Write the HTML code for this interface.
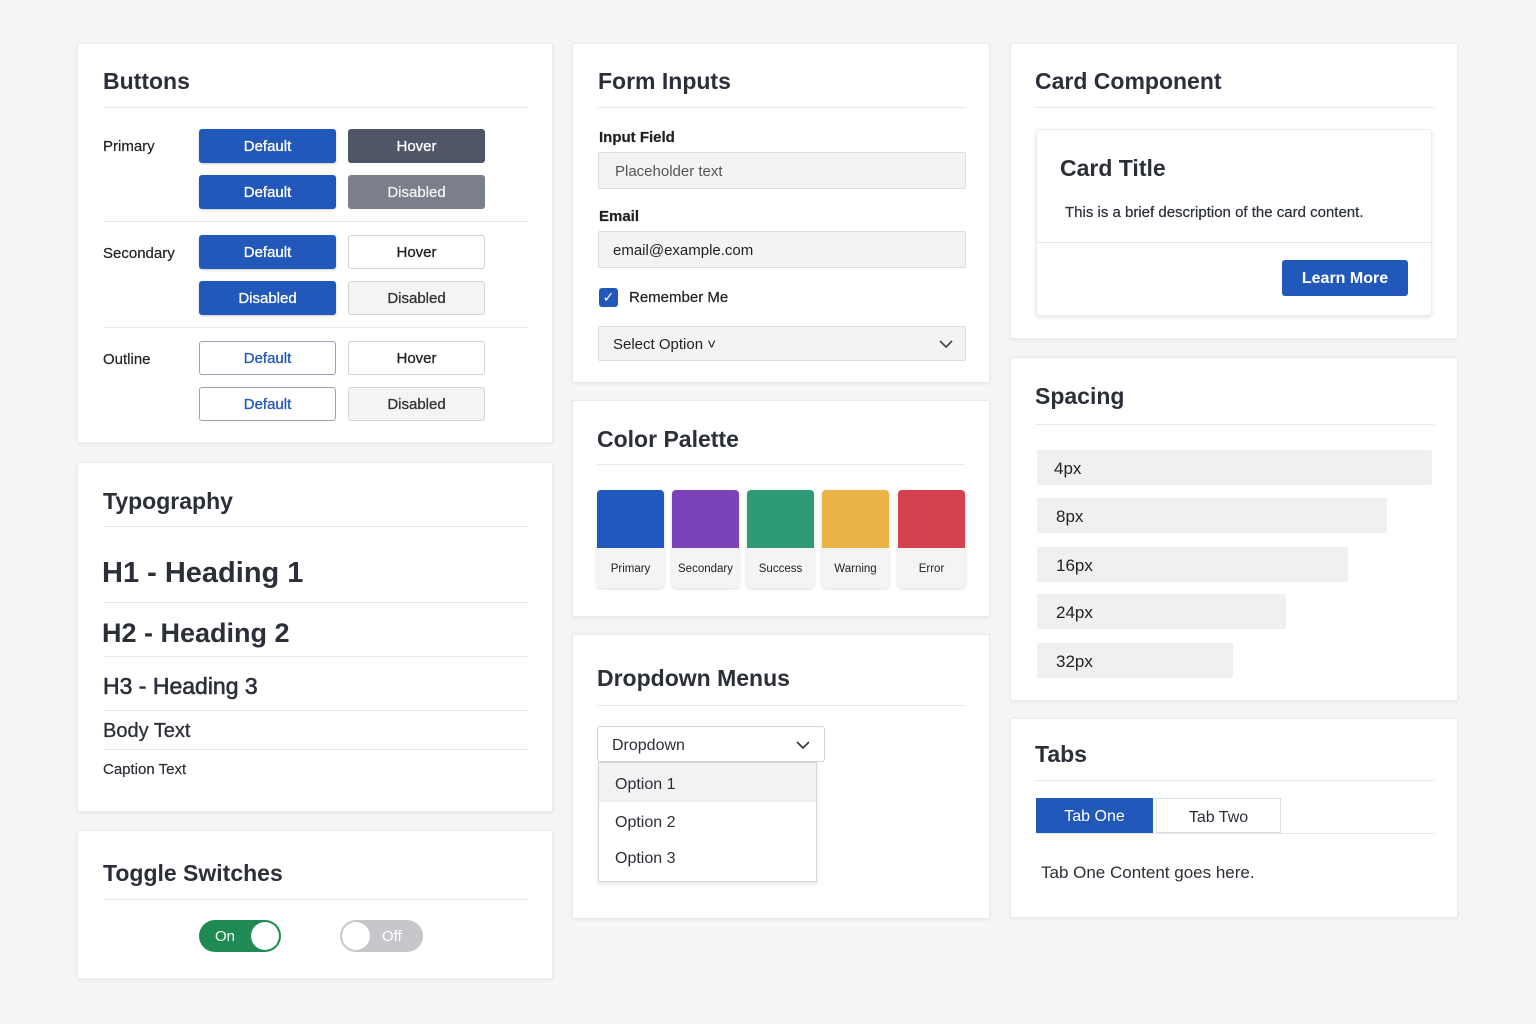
<!DOCTYPE html>
<html><head><meta charset="utf-8"><style>
*{box-sizing:border-box;margin:0;padding:0}
body{width:1536px;height:1024px;background:#f5f5f6;font-family:"Liberation Sans","DejaVu Sans",sans-serif;color:#2b2f38;position:relative;overflow:hidden}
.a{position:absolute}
.card{position:absolute;background:#fff;border:1px solid #ebebed;box-shadow:0 1px 3px rgba(0,0,0,.06);border-radius:2px}
.t{position:absolute;font-size:23px;font-weight:bold;color:#2b2f38;white-space:nowrap}
.hr{position:absolute;height:1px;background:#e8e8ea}
.b{position:absolute;width:137px;height:34px;line-height:36px;text-align:center;font-size:15px;border-radius:3px;-webkit-text-stroke:0.3px}
.pb{background:#2158ba;color:#fff;box-shadow:0 1px 2px rgba(0,0,0,.2)}
.wb{background:#fff;border:1.5px solid #cfd1d5;color:#222;line-height:33px}
.gb{background:#f4f4f5;border:1.5px solid #d4d5d8;color:#333;line-height:33px}
.ob{background:#fff;border:1.5px solid #9aa5ba;color:#2158ba;line-height:33px}
.lbl{position:absolute;font-size:15px;color:#222;white-space:nowrap;-webkit-text-stroke:0.2px}
.inp{position:absolute;background:#f3f3f4;border:1px solid #dcdde0;border-radius:2px;font-size:15px;padding-left:16px;color:#333}
.sw{position:absolute;top:490px;width:67px;height:98px;border-radius:4px;overflow:hidden;box-shadow:0 1px 3px rgba(0,0,0,.15);background:#f4f4f5}
.sw div{height:58px}
.sw span{display:block;text-align:center;font-size:11.5px;line-height:42px;color:#222}
.sp{position:absolute;left:1037px;height:35px;background:#f0f0f1;border-radius:2px;font-size:17px;line-height:37px;padding-left:19px;color:#222}
</style></head><body>

<!-- Buttons -->
<div class="card" style="left:77px;top:43px;width:476px;height:400px"></div>
<div class="t" style="left:103px;top:68px">Buttons</div>
<div class="hr" style="left:103px;top:107px;width:426px"></div>
<div class="lbl" style="left:103px;top:138px">Primary</div>
<div class="b pb" style="left:199px;top:129px">Default</div>
<div class="b" style="left:348px;top:129px;background:#4f5767;color:#fff">Hover</div>
<div class="b pb" style="left:199px;top:175px">Default</div>
<div class="b" style="left:348px;top:175px;background:#7a7f8a;color:#f0f0f0">Disabled</div>
<div class="hr" style="left:103px;top:221px;width:426px"></div>
<div class="lbl" style="left:103px;top:245px">Secondary</div>
<div class="b pb" style="left:199px;top:235px">Default</div>
<div class="b wb" style="left:348px;top:235px">Hover</div>
<div class="b pb" style="left:199px;top:281px">Disabled</div>
<div class="b gb" style="left:348px;top:281px">Disabled</div>
<div class="hr" style="left:103px;top:327px;width:426px"></div>
<div class="lbl" style="left:103px;top:351px">Outline</div>
<div class="b ob" style="left:199px;top:341px">Default</div>
<div class="b wb" style="left:348px;top:341px">Hover</div>
<div class="b ob" style="left:199px;top:387px">Default</div>
<div class="b gb" style="left:348px;top:387px">Disabled</div>

<!-- Typography -->
<div class="card" style="left:77px;top:462px;width:476px;height:350px"></div>
<div class="t" style="left:103px;top:488px">Typography</div>
<div class="hr" style="left:103px;top:526px;width:426px"></div>
<div class="a" style="left:102px;top:557px;font-size:29px;font-weight:bold">H1 - Heading 1</div>
<div class="hr" style="left:103px;top:602px;width:426px"></div>
<div class="a" style="left:102px;top:618px;font-size:27px;font-weight:bold">H2 - Heading 2</div>
<div class="hr" style="left:103px;top:656px;width:426px"></div>
<div class="a" style="left:103px;top:673px;font-size:23px;-webkit-text-stroke:0.6px">H3 - Heading 3</div>
<div class="hr" style="left:103px;top:710px;width:426px"></div>
<div class="a" style="left:103px;top:720px;font-size:20px;-webkit-text-stroke:0.3px">Body Text</div>
<div class="hr" style="left:103px;top:749px;width:426px"></div>
<div class="a" style="left:103px;top:761px;font-size:15px;-webkit-text-stroke:0.2px">Caption Text</div>

<!-- Toggles -->
<div class="card" style="left:77px;top:830px;width:476px;height:149px"></div>
<div class="t" style="left:103px;top:860px">Toggle Switches</div>
<div class="hr" style="left:103px;top:899px;width:426px"></div>
<div class="a" style="left:199px;top:920px;width:82px;height:32px;border-radius:16px;background:#1f8a53"><span class="a" style="left:16px;top:8px;color:#fff;font-size:15px">On</span><div class="a" style="left:52px;top:2px;width:28px;height:28px;border-radius:50%;background:#fff"></div></div>
<div class="a" style="left:340px;top:920px;width:83px;height:32px;border-radius:16px;background:#c5c7cb"><span class="a" style="left:42px;top:8px;color:#fff;font-size:15px">Off</span><div class="a" style="left:2px;top:2px;width:28px;height:28px;border-radius:50%;background:#fff"></div></div>

<!-- Form Inputs -->
<div class="card" style="left:572px;top:43px;width:418px;height:340px"></div>
<div class="t" style="left:598px;top:68px">Form Inputs</div>
<div class="hr" style="left:598px;top:107px;width:368px"></div>
<div class="lbl" style="left:599px;top:129px;font-weight:bold">Input Field</div>
<div class="inp" style="left:598px;top:152px;width:368px;height:37px;line-height:38px;color:#555">Placeholder text</div>
<div class="lbl" style="left:599px;top:208px;font-weight:bold">Email</div>
<div class="inp" style="left:598px;top:231px;width:368px;height:37px;line-height:38px;padding-left:14px;color:#222">email@example.com</div>
<div class="a" style="left:599px;top:288px;width:19px;height:19px;border-radius:3px;background:#2158ba;color:#fff;font-size:14px;line-height:19px;text-align:center">✓</div>
<div class="lbl" style="left:629px;top:289px">Remember Me</div>
<div class="inp" style="left:598px;top:326px;width:368px;height:35px;line-height:36px;padding-left:14px;color:#222">Select Option ˅</div>
<svg class="a" style="left:938px;top:338px" width="16" height="12"><path d="M2 3l6 6 6-6" stroke="#444" stroke-width="1.6" fill="none"/></svg>

<!-- Color palette -->
<div class="card" style="left:572px;top:400px;width:418px;height:217px"></div>
<div class="t" style="left:597px;top:426px">Color Palette</div>
<div class="hr" style="left:597px;top:464px;width:368px"></div>
<div class="sw" style="left:597px"><div style="background:#2058bf"></div><span>Primary</span></div>
<div class="sw" style="left:672px"><div style="background:#7c42b8"></div><span>Secondary</span></div>
<div class="sw" style="left:747px"><div style="background:#2f9b76"></div><span>Success</span></div>
<div class="sw" style="left:822px"><div style="background:#ecb348"></div><span>Warning</span></div>
<div class="sw" style="left:898px"><div style="background:#d3434f"></div><span>Error</span></div>

<!-- Dropdown -->
<div class="card" style="left:572px;top:634px;width:418px;height:285px"></div>
<div class="t" style="left:597px;top:665px">Dropdown Menus</div>
<div class="hr" style="left:597px;top:705px;width:368px"></div>
<div class="a" style="left:597px;top:726px;width:228px;height:36px;border:1px solid #cfd1d5;border-radius:3px;background:#fff;font-size:16px;line-height:37px;padding-left:14px">Dropdown</div>
<svg class="a" style="left:795px;top:739px" width="16" height="12"><path d="M2 3l6 6 6-6" stroke="#333" stroke-width="1.6" fill="none"/></svg>
<div class="a" style="left:598px;top:762px;width:219px;height:120px;border:1px solid #d6d7da;background:#fff;box-shadow:0 2px 4px rgba(0,0,0,.1)">
<div style="height:39px;background:#f2f2f3;font-size:16px;line-height:44px;padding-left:16px">Option 1</div>
<div style="height:38px;font-size:16px;line-height:42px;padding-left:16px">Option 2</div>
<div style="height:38px;font-size:16px;line-height:38px;padding-left:16px">Option 3</div>
</div>

<!-- Card component -->
<div class="card" style="left:1010px;top:43px;width:448px;height:296px"></div>
<div class="t" style="left:1035px;top:68px">Card Component</div>
<div class="hr" style="left:1035px;top:107px;width:399px"></div>
<div class="a" style="left:1036px;top:129px;width:396px;height:187px;border:1px solid #ebebed;border-radius:4px;box-shadow:0 2px 4px rgba(0,0,0,.1);background:#fff"></div>
<div class="a" style="left:1060px;top:155px;font-size:23px;font-weight:bold">Card Title</div>
<div class="a" style="left:1065px;top:204px;font-size:15px;-webkit-text-stroke:0.2px">This is a brief description of the card content.</div>
<div class="hr" style="left:1037px;top:242px;width:394px"></div>
<div class="a" style="left:1282px;top:260px;width:126px;height:36px;border-radius:3px;background:#2158ba;color:#fff;font-size:16px;font-weight:bold;line-height:37px;text-align:center">Learn More</div>

<!-- Spacing -->
<div class="card" style="left:1010px;top:357px;width:448px;height:344px"></div>
<div class="t" style="left:1035px;top:383px">Spacing</div>
<div class="hr" style="left:1035px;top:424px;width:399px"></div>
<div class="sp" style="top:450px;width:395px;padding-left:17px">4px</div>
<div class="sp" style="top:498px;width:350px">8px</div>
<div class="sp" style="top:547px;width:311px">16px</div>
<div class="sp" style="top:594px;width:249px">24px</div>
<div class="sp" style="top:643px;width:196px">32px</div>

<!-- Tabs -->
<div class="card" style="left:1010px;top:718px;width:448px;height:200px"></div>
<div class="t" style="left:1035px;top:741px">Tabs</div>
<div class="hr" style="left:1035px;top:780px;width:399px"></div>
<div class="a" style="left:1036px;top:798px;width:117px;height:35px;background:#2158ba;color:#fff;font-size:16px;line-height:37px;text-align:center">Tab One</div>
<div class="a" style="left:1156px;top:798px;width:125px;height:35px;border:1px solid #dcdde0;background:#fff;font-size:16px;line-height:37px;text-align:center">Tab Two</div>
<div class="hr" style="left:1035px;top:833px;width:399px"></div>
<div class="a" style="left:1041px;top:863px;font-size:17px">Tab One Content goes here.</div>
</body></html>
